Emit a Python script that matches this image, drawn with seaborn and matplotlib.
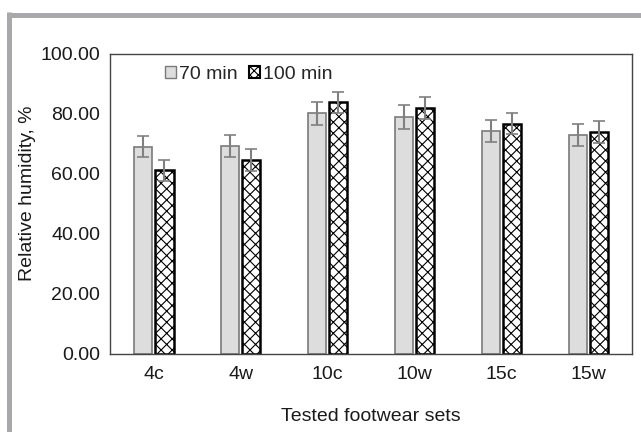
import matplotlib
matplotlib.use("Agg")
import matplotlib.pyplot as plt
import numpy as np
import pandas as pd
import seaborn as sns
from matplotlib.lines import Line2D
from matplotlib.patches import Patch


sets = ["4c", "4w", "10c", "10w", "15c", "15w"]
times = ["70 min", "100 min"]
rh_70 = [69.1, 69.4, 80.2, 79.1, 74.4, 73.0]
rh_100 = [61.2, 64.7, 83.9, 81.9, 76.7, 74.0]
err_70 = [3.6, 3.6, 3.8, 4.0, 3.7, 3.8]
err_100 = [3.6, 3.7, 3.5, 3.7, 3.5, 3.7]
yticks = [0, 20, 40, 60, 80, 100]

df = pd.DataFrame({
    "set": sets * 2,
    "time": [times[0]] * len(sets) + [times[1]] * len(sets),
    "rh": rh_70 + rh_100,
})

sns.set_style("white")
plt.rcParams["font.family"] = ["Liberation Sans", "DejaVu Sans"]
plt.rcParams["hatch.linewidth"] = 0.8
plt.rcParams["hatch.color"] = "black"

fig = plt.figure(figsize=(6.41, 4.32), dpi=100)
ax = fig.add_axes([0.1716, 0.1806, 0.986 - 0.1716, 0.875 - 0.1806])

sns.barplot(data=df, x="set", y="rh", hue="time", order=sets, hue_order=times,
            palette=["#dddddd", "white"], width=0.5, gap=0.17,
            errorbar=None, legend=False, ax=ax)

styles = [
    dict(edgecolor="#7a7a7a", linewidth=1.2, hatch=None),
    dict(edgecolor="black", linewidth=1.8, hatch="xxx"),
]
for cont, st, errs in zip(ax.containers, styles, [err_70, err_100]):
    xs, hs = [], []
    for bar in cont:
        bar.set_edgecolor(st["edgecolor"])
        bar.set_linewidth(st["linewidth"])
        if st["hatch"]:
            bar.set_hatch(st["hatch"])
        xs.append(bar.get_x() + bar.get_width() / 2)
        hs.append(bar.get_height())
    ax.errorbar(xs, hs, yerr=errs, fmt="none", ecolor="#808080",
                elinewidth=1.5, capsize=4, capthick=1.2, zorder=5)

ax.set_ylim(0, 100)
ax.set_yticks(yticks)
ax.set_yticklabels([f"{v:.2f}" for v in yticks])
ax.tick_params(axis="both", length=0, labelsize=14, colors="#1a1a1a")
ax.tick_params(axis="y", pad=7)
ax.tick_params(axis="x", pad=9)
ax.set_xlabel("Tested footwear sets", fontsize=14, color="#1a1a1a", labelpad=18)
ax.set_ylabel("Relative humidity, %", fontsize=14, color="#1a1a1a")
ax.yaxis.set_label_coords(-0.142, 0.535)
for sp in ax.spines.values():
    sp.set_visible(True)
    sp.set_color("#444444")
    sp.set_linewidth(1.0)

handles = [
    Patch(facecolor="#dddddd", edgecolor="#7a7a7a", linewidth=1.0, label=times[0]),
    Patch(facecolor="white", edgecolor="black", linewidth=1.5, hatch="xxxx", label=times[1]),
]
ax.legend(handles=handles, loc="upper left", bbox_to_anchor=(0.08, 1.005), ncol=2,
          frameon=False, fontsize=14, handlelength=0.55, handleheight=0.55,
          handletextpad=0.15, columnspacing=0.6, borderaxespad=0.3)

# partial page frame, left and top only
frame_c = "#a8a9ad"
fig.add_artist(Line2D([9 / 641, 9 / 641], [0, 1 - 12 / 432], color=frame_c, linewidth=3.6,
                      transform=fig.transFigure, solid_capstyle="butt"))
fig.add_artist(Line2D([7 / 641, 1], [1 - 14.5 / 432, 1 - 14.5 / 432], color=frame_c,
                      linewidth=3.6, transform=fig.transFigure, solid_capstyle="butt"))

fig.savefig("out.png", dpi=100)
